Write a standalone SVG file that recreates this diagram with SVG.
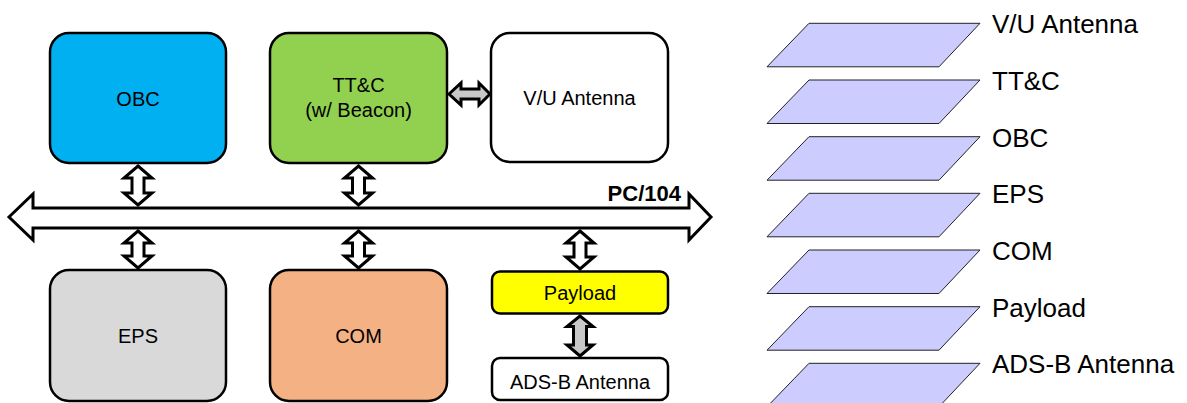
<svg xmlns="http://www.w3.org/2000/svg" width="1187" height="403" viewBox="0 0 1187 403">
  <style>
    .box { stroke: #000; stroke-width: 2.5; }
    .lbl { font-family: "Liberation Sans", Arial, sans-serif; font-size: 20px; fill: #000; text-anchor: middle; }
    .dbl { fill: #fff; stroke: #000; stroke-width: 3; stroke-linejoin: miter; }
    .dblg { fill: #c8c8c8; stroke: #000; stroke-width: 3; stroke-linejoin: miter; }
    .layer { fill: #ccccff; stroke: #222; stroke-width: 1; }
    .ltxt { font-family: "Liberation Sans", Arial, sans-serif; font-size: 26px; fill: #000; }
  </style>
  <rect width="1187" height="403" fill="#fff"/>

  <!-- Block diagram -->
  <g id="obc">
    <rect class="box" x="50" y="33" width="176" height="130" rx="19" fill="#00b0f0"/>
    <text class="lbl" x="138" y="106">OBC</text>
  </g>
  <g id="ttc">
    <rect class="box" x="270" y="33" width="177" height="130" rx="19" fill="#92d050"/>
    <text class="lbl" x="358.5" y="92">TT&amp;C</text>
    <text class="lbl" x="358.5" y="117">(w/ Beacon)</text>
  </g>
  <g id="vu-antenna">
    <rect class="box" x="491" y="33" width="177" height="129" rx="19" fill="#fff"/>
    <text class="lbl" x="579.5" y="105">V/U Antenna</text>
  </g>
  <g id="eps">
    <rect class="box" x="50" y="270" width="176" height="131" rx="19" fill="#d9d9d9"/>
    <text class="lbl" x="138" y="343">EPS</text>
  </g>
  <g id="com">
    <rect class="box" x="270" y="270" width="177" height="131" rx="19" fill="#f4b183"/>
    <text class="lbl" x="358.5" y="343">COM</text>
  </g>
  <g id="payload">
    <rect class="box" x="492" y="271.5" width="176" height="42" rx="8" fill="#ffff00"/>
    <text class="lbl" x="580" y="299.5">Payload</text>
  </g>
  <g id="adsb-antenna">
    <rect class="box" x="492" y="358" width="176" height="42" rx="8" fill="#fff"/>
    <text class="lbl" x="580" y="388.5">ADS-B Antenna</text>
  </g>

  <!-- Bus and connectors -->
  <g id="connectors">
    <g id="pc104-bus">
      <path class="dbl" d="M9,217 L33,194 L33,208 L689,208 L689,194 L711,217 L689,240 L689,228 L33,228 L33,240 Z"/>
      <text x="681" y="201" font-family="'Liberation Sans', Arial, sans-serif" font-size="22" font-weight="bold" text-anchor="end">PC/104</text>
    </g>
    <!-- upper taps -->
    <path class="dbl" d="M138,166 L152,178 L144,178 L144,193 L152,193 L138,205 L124,193 L132,193 L132,178 L124,178 Z"/>
    <path class="dbl" d="M358.5,166 L372.5,178 L364.5,178 L364.5,193 L372.5,193 L358.5,205 L344.5,193 L352.5,193 L352.5,178 L344.5,178 Z"/>
    <!-- lower taps -->
    <path class="dbl" d="M138,231 L152,243 L144,243 L144,256 L152,256 L138,268 L124,256 L132,256 L132,243 L124,243 Z"/>
    <path class="dbl" d="M358.5,231 L372.5,243 L364.5,243 L364.5,256 L372.5,256 L358.5,268 L344.5,256 L352.5,256 L352.5,243 L344.5,243 Z"/>
    <path class="dbl" d="M580,231 L594,243 L586,243 L586,257 L594,257 L580,269 L566,257 L574,257 L574,243 L566,243 Z"/>
    <!-- TT&C to V/U antenna -->
    <path class="dblg" d="M449,94 L461,83 L461,89 L479,89 L479,83 L490,94 L479,105 L479,99 L461,99 L461,105 Z"/>
    <!-- Payload to ADS-B antenna -->
    <path class="dblg" d="M580,316 L593,326.5 L586.5,326.5 L586.5,345 L593,345 L580,356 L567,345 L573.5,345 L573.5,326.5 L567,326.5 Z"/>
  </g>

  <!-- Stack view -->
  <g id="stack">
    <polygon class="layer" points="809,23.3 980,23.3 939,66.8 767,66.8"/>
    <text class="ltxt" x="992" y="33.3">V/U Antenna</text>
    <polygon class="layer" points="809,80 980,80 939,123.5 767,123.5"/>
    <text class="ltxt" x="992" y="90">TT&amp;C</text>
    <polygon class="layer" points="809,136.7 980,136.7 939,180.2 767,180.2"/>
    <text class="ltxt" x="992" y="146.7">OBC</text>
    <polygon class="layer" points="809,193.3 980,193.3 939,236.8 767,236.8"/>
    <text class="ltxt" x="992" y="203.3">EPS</text>
    <polygon class="layer" points="809,250 980,250 939,293.5 767,293.5"/>
    <text class="ltxt" x="992" y="260">COM</text>
    <polygon class="layer" points="809,306.7 980,306.7 939,350.2 767,350.2"/>
    <text class="ltxt" x="992" y="316.7">Payload</text>
    <polygon class="layer" points="809,363.3 980,363.3 939,406.8 767,406.8"/>
    <text class="ltxt" x="992" y="373.3">ADS-B Antenna</text>
  </g>
</svg>
